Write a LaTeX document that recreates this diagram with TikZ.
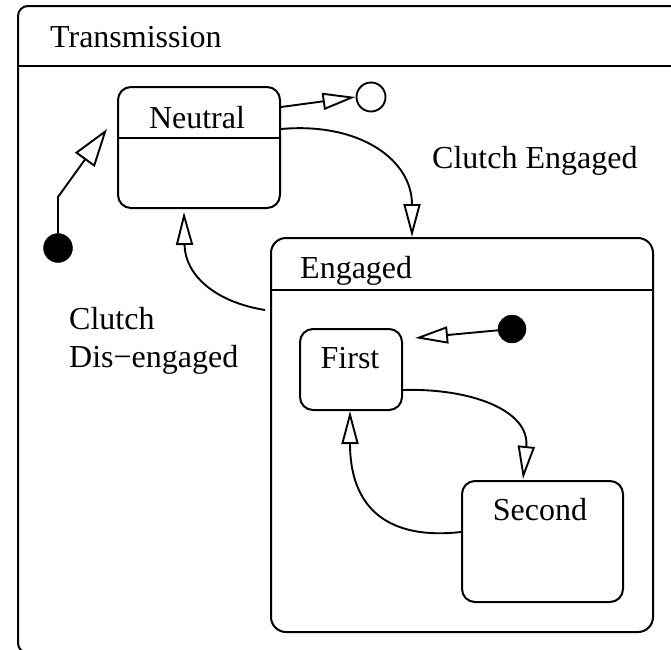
\documentclass[tikz,border=0pt]{standalone}
\usepackage{fontspec}
\setmainfont{Liberation Serif}
\usetikzlibrary{arrows.meta}
\begin{document}
\begin{tikzpicture}[x=1pt,y=-1pt,
  box/.style={draw, rectangle, rounded corners=13pt, line width=2pt, inner sep=0pt},
  lbl/.style={font=\fontsize{32}{38}\selectfont, inner sep=0pt},
  conn/.style={line width=1.9pt, line join=miter},
  openhead/.style={-{Triangle[open,length=33pt,width=17pt]}},
  bighead/.style={-{Triangle[open,length=38pt,width=24pt]}},
  initstate/.style={circle, fill=black, draw=black, minimum size=29pt, inner sep=0pt},
  finalstate/.style={circle, draw=black, line width=1.9pt, minimum size=29pt, inner sep=0pt}]
\useasboundingbox (0,0) rectangle (671,649);
\clip (0,0) rectangle (671,649);
% boxes
\node[box, rounded corners=10pt, minimum width=702pt, minimum height=647pt] (trans) at (369,329.5) {};
\node[box, minimum width=162pt, minimum height=121pt] (neutral) at (199,147.5) {};
\node[box, rounded corners=15pt, minimum width=382pt, minimum height=394pt] (engaged) at (462,435) {};
\node[box, minimum width=102pt, minimum height=81pt] (first) at (351,369.5) {};
\node[box, minimum width=161pt, minimum height=121pt] (second) at (542.5,541.5) {};
% dividers
\coordinate (d1) at (0,66);
\coordinate (d2) at (0,138);
\coordinate (d3) at (0,290);
\draw[conn, line width=2pt] (trans.west |- d1) -- (trans.east |- d1);
\draw[conn, line width=2pt] (neutral.west |- d2) -- (neutral.east |- d2);
\draw[conn, line width=2pt] (engaged.west |- d3) -- (engaged.east |- d3);
% texts
\node[lbl, anchor=base west] (ttrans) at (50,47) {Transmission};
\node[lbl, anchor=base] (tneutral) at (197,128) {Neutral};
\node[lbl, anchor=base west] (tengaged) at (300,278) {Engaged};
\node[lbl, anchor=base] (tfirst) at (350,368) {First};
\node[lbl, anchor=base] (tsecond) at (540,520) {Second};
\node[lbl, anchor=base west] (lce) at (432,168) {Clutch Engaged};
\node[lbl, anchor=base west] (lcd1) at (69,329) {Clutch};
\node[lbl, anchor=base west] (lcd2) at (69,367) {Dis−engaged};
% pseudo states
\node[initstate] (init1) at (58,248) {};
\node[finalstate] (final) at (371,97) {};
\node[initstate, minimum size=28pt] (init2) at (512,329) {};
% connector coordinates
\coordinate (b1) at (58,197);
\coordinate (n1) at (107,129);
\coordinate (y107) at (0,107);
\coordinate (y129) at (0,129);
\coordinate (x412) at (412,0);
\coordinate (c1) at (265,310);
\coordinate (n2) at (184,212);
\coordinate (f1) at (415,338);
\coordinate (y390) at (0,390);
\coordinate (s1) at (523,479);
\coordinate (y532) at (0,532);
\coordinate (f2) at (350,411);
% connectors
\draw[conn, bighead] (init1.north) -- (b1) -- (n1);
\draw[conn, openhead] (neutral.east |- y107) -- (final.west);
\draw[conn, openhead] (neutral.east |- y129) .. controls (360,122) and (412,160) .. (engaged.north -| x412);
\draw[conn, openhead] (c1) .. controls (215,302) and (185,275) .. (n2);
\draw[conn, openhead] (init2) -- (f1);
\draw[conn, openhead] (first.east |- y390) .. controls (470,388) and (530,410) .. (s1);
\draw[conn, openhead] (second.west |- y532) .. controls (390,540) and (350,510) .. (f2);
\end{tikzpicture}
\end{document}
